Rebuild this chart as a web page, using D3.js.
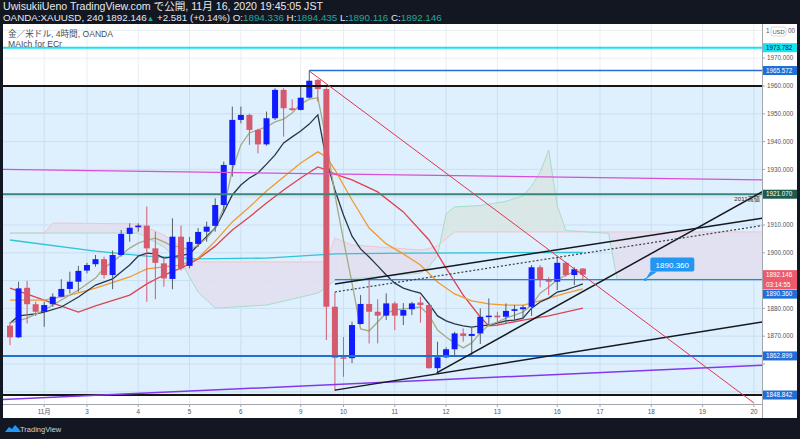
<!DOCTYPE html>
<html>
<head>
<meta charset="utf-8">
<script src="https://cdn.jsdelivr.net/npm/d3@7"></script>
<style>
  body { margin: 0; background: #131722; }
  svg { display: block; }
  text { font-family: "Liberation Sans", "Noto Sans CJK JP", sans-serif; }
</style>
</head>
<body>
<svg id="chart" width="800" height="439"></svg>
<script>
// 4h candles (index 0 = first candle on the left)
const open  = [1873.8,1869.6,1887.4,1881.5,1878.8,1881.5,1884.2,1887.0,1889.6,1893.6,1895.9,1897.7,1892.0,1899.2,1906.8,1909.2,1909.8,1901.6,1896.2,1890.6,1905.8,1895.3,1903.2,1907.6,1909.7,1917.2,1931.6,1947.8,1949.6,1944.2,1939.0,1948.4,1958.6,1952.0,1951.4,1955.8,1962.2,1958.9,1880.6,1862.4,1862.1,1874.4,1881.6,1878.8,1877.4,1881.8,1877.4,1879.7,1882.1,1881.2,1858.5,1862.4,1865.3,1871.0,1870.1,1871.0,1877.0,1877.4,1877.0,1879.1,1879.7,1880.6,1894.8,1890.5,1889.6,1896.4,1892.0,1894.336];
const high  = [1875.1,1889.6,1889.9,1882.4,1882.4,1885.4,1890.5,1893.2,1895.3,1896.4,1899.2,1898.6,1900.8,1908.2,1910.6,1910.6,1916.6,1907.6,1898.0,1912.4,1909.8,1905.7,1908.9,1911.2,1919.6,1932.8,1952.6,1952.6,1950.0,1944.6,1950.8,1959.2,1959.2,1955.2,1959.7,1965.572,1962.5,1959.5,1885.9,1869.7,1875.2,1884.8,1890.2,1883.3,1885.4,1882.4,1881.9,1882.4,1884.2,1881.8,1868.0,1866.0,1871.6,1872.8,1873.1,1880.0,1883.6,1878.8,1881.8,1881.2,1881.2,1895.6,1895.6,1891.2,1898.6,1896.8,1894.8,1894.435];
const low   = [1866.8,1869.4,1874.6,1877.3,1873.4,1880.6,1884.0,1885.4,1886.0,1892.6,1895.0,1890.8,1886.9,1898.6,1904.0,1907.6,1882.4,1883.3,1887.8,1886.9,1893.6,1894.4,1902.1,1904.0,1907.6,1914.8,1927.4,1946.6,1938.8,1935.8,1938.5,1947.8,1941.8,1951.0,1951.2,1955.5,1954.4,1868.6,1850.3,1855.4,1860.3,1874.2,1867.4,1867.4,1875.8,1872.2,1874.0,1877.6,1874.9,1858.3,1856.7,1862.1,1862.6,1868.0,1862.9,1867.2,1874.0,1874.0,1874.6,1875.8,1876.4,1877.3,1887.6,1884.8,1886.6,1891.4,1888.4,1890.116];
const close = [1869.6,1887.2,1881.5,1878.8,1881.2,1884.2,1887.0,1889.6,1893.5,1895.6,1897.7,1892.0,1899.2,1906.8,1909.0,1909.8,1901.6,1896.4,1890.8,1905.8,1894.4,1903.9,1907.5,1909.4,1917.2,1931.6,1947.8,1949.6,1944.2,1939.0,1948.4,1958.6,1952.0,1951.4,1955.8,1961.9,1958.9,1880.6,1862.2,1862.0,1874.0,1881.6,1878.8,1877.4,1881.8,1877.4,1879.4,1881.8,1881.2,1858.5,1862.4,1865.3,1871.0,1870.1,1870.8,1877.0,1877.4,1876.8,1879.1,1879.7,1880.4,1894.8,1890.5,1889.6,1896.4,1892.0,1894.1,1892.146];

// moving averages, sampled at candle indexes
const maFastIdx = [0,2,4,6,8,10,11,12,13,14,15,16,17,18,19,20,21,22,23,24,25,26,27,28,29,30,31,32,33,34,35,36,37,38,39,40,41,42,43,44,45,46,47,48,49,50,51,52,53,54,55,56,57,58,59,60,61,62,63,64,65,66,67];
const maFast    = [1874.7,1876.5,1879.4,1883.0,1886.6,1890.9,1894.5,1896.7,1899.2,1901.7,1903.5,1904.6,1905.3,1903.9,1902.4,1902.1,1901.0,1902.8,1905.3,1908.9,1916.1,1929.8,1938.8,1943.1,1944.2,1945.3,1947.1,1948.1,1950.3,1953.5,1955.3,1955.7,1940.6,1920.8,1904.6,1889.1,1872.6,1871.9,1875.1,1878.3,1879.4,1879.8,1880.1,1880.5,1877.6,1872.2,1869.7,1867.6,1865.8,1867.6,1871.2,1874.0,1875.1,1876.5,1877.6,1878.7,1881.2,1885.5,1887.7,1890.2,1892.0,1893.1,1893.5];
const maMidIdx = [0,1,3,4,6,8,10,12,14,15,16,17,18,19,21,22,24,25,26,27,28,29,30,31,32,33,34,35,36,37,38,39,40,41,42,43,44,45,46,47,48,49,50,51,52,53,54,55,56,57,58,59,60,61,62,63,64,65,66,67];
const maMid    = [1874.7,1877.3,1878.0,1878.7,1880.5,1884.1,1888.4,1890.6,1895.6,1898.8,1899.9,1899.6,1898.1,1898.5,1899.6,1902.8,1908.9,1914.7,1920.8,1924.4,1926.9,1928.7,1931.9,1935.2,1939.5,1941.7,1943.8,1946.3,1949.6,1933.4,1922.6,1913.6,1906.0,1901.4,1898.5,1895.3,1892.0,1889.1,1887.3,1886.3,1885.5,1881.6,1877.3,1875.5,1874.4,1873.7,1873.3,1873.7,1874.0,1874.7,1875.5,1875.8,1876.5,1880.1,1882.3,1883.7,1885.9,1886.6,1887.7,1888.8];
const maOrangeIdx = [0,4,7,10,14,16,18,20,22,24,26,28,30,32,34,36,37,38,39,40,42,44,46,48,50,52,54,56,58,60,61,63,65,67];
const maOrange    = [1883.0,1883.0,1884.8,1887.3,1891.3,1894.2,1894.9,1895.6,1898.1,1904.2,1911.1,1916.5,1922.2,1927.3,1932.3,1936.3,1934.5,1929.8,1924.4,1919.0,1908.9,1903.2,1899.6,1895.6,1889.5,1885.2,1882.7,1881.6,1881.2,1881.2,1881.9,1883.7,1885.5,1887.0];
const maRedIdx = [0,4,8,10,14,16,18,20,22,24,26,28,30,32,34,36,37,38,40,43,46,49,51,53,55,56,57,60,63,67];
const maRed    = [1887.3,1883.0,1878.7,1880.9,1884.8,1888.8,1892.0,1894.5,1897.8,1902.4,1908.2,1912.9,1917.9,1922.6,1926.9,1930.9,1929.8,1928.3,1926.2,1921.9,1914.7,1904.6,1894.5,1884.8,1876.9,1873.7,1874.0,1875.8,1877.3,1880.1];
const maLongIdx = [0,10,16,22,30,38,46,55,67];
const maLong    = [1904.6,1900.6,1898.8,1897.8,1898.1,1899.6,1899.9,1900.0,1900.1];

// ichimoku leading spans (shifted forward), sampled at the same indexes
const cloudIdx = [0,4,5,15,18,20,22,24,30,36,37,38,40,48,49,50,51,52,55,58,60,61,62,63,64,65,70,71,89];
const spanA    = [1907.1,1907.1,1907.1,1907.1,1902.1,1896.7,1885.9,1880.1,1881.2,1885.5,1887.5,1890.2,1890.6,1892.7,1895.0,1899.0,1914.0,1916.5,1917.0,1918.5,1920.5,1924.0,1929.0,1937.0,1917.0,1908.0,1907.0,1890.5,1890.5];
const spanB    = [1907.1,1907.1,1910.7,1910.4,1906.4,1902.1,1896.7,1896.7,1896.7,1896.7,1896.7,1905.3,1902.8,1901.0,1901.5,1902.5,1905.0,1907.5,1907.5,1907.5,1907.5,1907.5,1907.5,1907.5,1907.5,1907.5,1907.5,1907.5,1907.5];

// x axis
const tickIdx    = [4,9,15,21,27,34,39,45,51,57,64,69,75,81,87];
const tickLabels = ["11月","3","4","5","6","9","10","11","12","13","16","17","18","19","20"];
const priceTicks = [1850,1860,1870,1880,1890,1900,1910,1920,1930,1940,1950,1960,1970];

// horizontal drawings: price, colour, width, start index
const hPrices = [1973.782,1965.572,1960,1921.070,1890.360,1862.899,1848.842];
const hColors = ["#12e4f2","#1f6fd6","#161616","#3b8678","#2f80e3","#1f6fd6","#161616"];
const hWidths = [2,1.3,2,2,1.3,2,2];
const hStart  = [-2,35,-2,-2,38,-2,-2];

// sloped drawings: [idx0, price0, idx1, price1]
const trendLines = [
  {name:"magenta", p:[-1,1930.0,89,1926.2], color:"#d84fd6", w:1.3, dash:null},
  {name:"purple",  p:[-1,1847.2,89,1859.7], color:"#8338ec", w:1.5, dash:null},
  {name:"lower",   p:[38,1850.6,89,1875.6], color:"#16181f", w:1.5, dash:null},
  {name:"steep",   p:[49.9,1856.8,89,1923.7], color:"#16181f", w:1.5, dash:null},
  {name:"upper",   p:[38,1888.8,89,1912.9], color:"#16181f", w:1.5, dash:null},
  {name:"dotted",  p:[38,1885.9,89,1910.3], color:"#3a3d45", w:1.2, dash:"2,2"},
  {name:"redDiag", p:[35,1965.4,87,1846.0], color:"#e0364c", w:1, dash:null}
];

// right axis price labels
const axisLabelPrices = [1973.782,1965.572,1921.070,1892.146,1890.360,1862.899,1848.842];
const axisLabelText   = ["1973.782","1965.572","1921.070","1892.146","1890.360","1862.899","1848.842"];
const axisLabelFill   = ["#12e4f2","#1f6fd6","#1d5c4d","#ee5a6c","#1f6fd6","#1f6fd6","#1f6fd6"];
const axisLabelInk    = ["#131722","#fff","#fff","#fff","#fff","#fff","#fff"];

const W = 800, H = 439;
const L = 3, R = 762, T = 24, B = 404;

const svg = d3.select("#chart");
const x = d3.scaleLinear().domain([0, 87]).range([10, 753.9]);
const y = d3.scaleLinear().domain([1850, 1960]).range([391.8, 86]);

svg.append("rect").attr("width", W).attr("height", H).attr("fill", "#131722");
svg.append("rect").attr("x", L).attr("y", T).attr("width", 794).attr("height", 394).attr("fill", "#fff");

svg.append("defs").append("clipPath").attr("id", "plotClip")
  .append("rect").attr("x", L).attr("y", T).attr("width", R - L).attr("height", B - T);

const plot = svg.append("g").attr("clip-path", "url(#plotClip)");

// grid
plot.selectAll(".vgrid").data(tickIdx).join("line")
  .attr("x1", d => x(d)).attr("x2", d => x(d)).attr("y1", T).attr("y2", B)
  .attr("stroke", "#e8edf3").attr("stroke-width", 1);
plot.selectAll(".hgrid").data(priceTicks.concat([1980])).join("line")
  .attr("x1", L).attr("x2", R).attr("y1", d => y(d)).attr("y2", d => y(d))
  .attr("stroke", "#e8edf3").attr("stroke-width", 1);

// rectangle drawing (1960 .. 1848.842)
plot.append("rect").attr("x", L).attr("width", R - L)
  .attr("y", y(1960)).attr("height", y(1848.842) - y(1960))
  .attr("fill", "rgba(33,150,243,0.15)");

// cloud: one quad per step, green-grey when span A is on top, lavender otherwise
const cloudSteps = d3.pairs(cloudIdx.map((d, i) => ({i: d, a: spanA[i], b: spanB[i]})));
plot.selectAll(".cloud").data(cloudSteps).join("path")
  .attr("d", ([p, q]) => `M${x(p.i)},${y(p.a)}L${x(q.i)},${y(q.a)}L${x(q.i)},${y(q.b)}L${x(p.i)},${y(p.b)}Z`)
  .attr("fill", ([p, q]) => (p.a + q.a) > (p.b + q.b) ? "#d8e5e4" : "#e2dfef")
  .attr("opacity", 0.9);
plot.append("path").datum(cloudIdx.map((d, i) => [d, spanB[i]]))
  .attr("d", d3.line().x(d => x(d[0])).y(d => y(d[1])))
  .attr("fill", "none").attr("stroke", "#f3c3cf").attr("stroke-width", 1);
plot.append("path").datum(cloudIdx.map((d, i) => [d, spanA[i]]))
  .attr("d", d3.line().x(d => x(d[0])).y(d => y(d[1])))
  .attr("fill", "none").attr("stroke", "#a9dcc7").attr("stroke-width", 1);

// moving averages
const maDefs = [
  {idx: maLongIdx, v: maLong, color: "#2fc3d8"},
  {idx: maRedIdx, v: maRed, color: "#e0424f"},
  {idx: maOrangeIdx, v: maOrange, color: "#f29a2e"},
  {idx: maMidIdx, v: maMid, color: "#2a3648"},
  {idx: maFastIdx, v: maFast, color: "#a6aa83"}
];
const maLine = d3.line().x(d => x(d[0])).y(d => y(d[1]));
maDefs.forEach(m => {
  plot.append("path").datum(m.idx.map((d, i) => [d, m.v[i]]))
    .attr("d", maLine).attr("fill", "none")
    .attr("stroke", m.color).attr("stroke-width", 1.3);
});

// candles
const candles = open.map((o, i) => ({i, o, h: high[i], l: low[i], c: close[i]}));
const bull = "#0f1cff", bear = "#d65a6e";
const cg = plot.selectAll(".candle").data(candles).join("g");
cg.append("line")
  .attr("x1", d => x(d.i)).attr("x2", d => x(d.i))
  .attr("y1", d => y(d.h)).attr("y2", d => y(d.l))
  .attr("stroke", d => d.c >= d.o ? "#5a5d66" : bear).attr("stroke-width", 1);
cg.append("rect")
  .attr("x", d => x(d.i) - 3).attr("width", 6)
  .attr("y", d => y(Math.max(d.o, d.c)))
  .attr("height", d => Math.max(1.5, Math.abs(y(d.o) - y(d.c))))
  .attr("fill", d => d.c >= d.o ? bull : bear);

// horizontal drawings
plot.selectAll(".hline").data(hPrices).join("line")
  .attr("x1", (d, i) => x(hStart[i])).attr("x2", R)
  .attr("y1", d => y(d)).attr("y2", d => y(d))
  .attr("stroke", (d, i) => hColors[i]).attr("stroke-width", (d, i) => hWidths[i]);

// trend lines
trendLines.forEach(t => {
  plot.append("line")
    .attr("x1", x(t.p[0])).attr("y1", y(t.p[1]))
    .attr("x2", x(t.p[2])).attr("y2", y(t.p[3]))
    .attr("stroke", t.color).attr("stroke-width", t.w)
    .attr("stroke-dasharray", t.dash);
});

// note under the 2011 high line
plot.append("text").attr("x", 760).attr("y", y(1921.070) + 7)
  .attr("text-anchor", "end").attr("font-size", 6.2).attr("fill", "#333")
  .text("2011高値");

// callout 1890.360
const cx = x(74.3), cy = y(1890.360);
plot.append("path")
  .attr("d", `M${cx},${cy} L${cx + 5},${cy - 8} L${cx + 12},${cy - 8} Z`)
  .attr("fill", "#2196f3");
plot.append("rect").attr("x", cx + 5).attr("y", cy - 22).attr("width", 44).attr("height", 14)
  .attr("rx", 2).attr("fill", "#2196f3");
plot.append("text").attr("x", cx + 27).attr("y", cy - 12).attr("text-anchor", "middle")
  .attr("font-size", 8).attr("fill", "#fff").text("1890.360");
plot.append("circle").attr("cx", cx).attr("cy", cy).attr("r", 1.5).attr("fill", "#2196f3");

// axes lines
svg.append("line").attr("x1", R + 0.5).attr("x2", R + 0.5).attr("y1", T).attr("y2", 418)
  .attr("stroke", "#a3a6ae").attr("stroke-width", 1);
svg.append("line").attr("x1", L).attr("x2", R).attr("y1", B + 0.5).attr("y2", B + 0.5)
  .attr("stroke", "#a3a6ae").attr("stroke-width", 1);

// bottom axis
svg.selectAll(".xtick").data(tickIdx).join("line")
  .attr("x1", d => x(d)).attr("x2", d => x(d)).attr("y1", B).attr("y2", B + 3)
  .attr("stroke", "#a3a6ae");
svg.selectAll(".xlab").data(tickIdx).join("text")
  .attr("x", d => x(d)).attr("y", 414).attr("text-anchor", "middle")
  .attr("font-size", 6.3).attr("fill", "#50535e")
  .text((d, i) => tickLabels[i]);

// coloured price labels, stacked so they do not overlap
const boxes = axisLabelPrices.map((p, i) => ({p, t: axisLabelText[i], f: axisLabelFill[i], k: axisLabelInk[i], yy: y(p), h: 9}));
boxes.find(b => b.t === "1892.146").h = 19;
boxes.sort((a, b) => a.yy - b.yy);
for (let i = 1; i < boxes.length; i++) {
  const prev = boxes[i - 1];
  const prevBottom = prev.yy - 4.5 + prev.h;
  if (boxes[i].yy - 4.5 < prevBottom + 0.5) boxes[i].yy = prevBottom + 5;
}

// right axis: plain labels hidden where a coloured label covers them
const freeTicks = priceTicks.filter(p => !boxes.some(b => y(p) > b.yy - 4.5 - 4 && y(p) < b.yy - 4.5 + b.h + 4));
svg.selectAll(".ytick").data(priceTicks).join("line")
  .attr("x1", R).attr("x2", R + 3).attr("y1", d => y(d)).attr("y2", d => y(d))
  .attr("stroke", "#a3a6ae");
svg.selectAll(".ylab").data(freeTicks).join("text")
  .attr("x", 767).attr("y", d => y(d) + 2.2)
  .attr("font-size", 6.3).attr("fill", "#50535e")
  .text(d => d3.format(".3f")(d));

boxes.forEach(b => {
  svg.append("rect").attr("x", R + 1).attr("y", b.yy - 4.5).attr("width", 34).attr("height", b.h)
    .attr("fill", b.f);
  svg.append("text").attr("x", 766).attr("y", b.yy + 2.2)
    .attr("font-size", 6.3).attr("fill", b.k).text(b.t);
  if (b.t === "1892.146") {
    svg.append("text").attr("x", 766).attr("y", b.yy + 12)
      .attr("font-size", 6.3).attr("fill", "#fff").text("03:14:55");
  }
});

// currency badge over the 1980 label
svg.append("text").attr("x", 766).attr("y", y(1980) + 2.2).attr("font-size", 6.3).attr("fill", "#50535e").text("1");
svg.append("text").attr("x", 788).attr("y", y(1980) + 2.2).attr("font-size", 6.3).attr("fill", "#50535e").text("00");
svg.append("rect").attr("x", 771).attr("y", 27).attr("width", 15).attr("height", 9)
  .attr("rx", 2).attr("fill", "#fff").attr("stroke", "#d6d8de");
svg.append("text").attr("x", 778.5).attr("y", 33.6).attr("text-anchor", "middle")
  .attr("font-size", 5.8).attr("fill", "#50535e").text("USD");

// legend in panel
svg.append("text").attr("x", 8).attr("y", 37).attr("font-size", 8.6).attr("fill", "#4a4d57")
  .text("金／米ドル, 4時間, OANDA");
svg.append("text").attr("x", 8).attr("y", 46.5).attr("font-size", 8.6).attr("fill", "#4a4d57")
  .text("MAIch for ECr");

// header
svg.append("text").attr("x", 3).attr("y", 10).attr("font-size", 10.6).attr("fill", "#e8e9ec")
  .text("UwisukiiUeno TradingView.com で公開, 11月 16, 2020 19:45:05 JST");
const hdr = svg.append("text").attr("x", 3).attr("y", 20.5).attr("font-size", 9.8).attr("fill", "#e8e9ec");
hdr.append("tspan").text("OANDA:XAUUSD, 240 1892.146");
hdr.append("tspan").attr("fill", "#26a69a").attr("font-size", 7.5).text("▲");
hdr.append("tspan").text(" +2.581 (+0.14%) O:");
hdr.append("tspan").attr("fill", "#26a69a").text("1894.336");
hdr.append("tspan").text(" H:");
hdr.append("tspan").attr("fill", "#26a69a").text("1894.435");
hdr.append("tspan").text(" L:");
hdr.append("tspan").attr("fill", "#26a69a").text("1890.116");
hdr.append("tspan").text(" C:");
hdr.append("tspan").attr("fill", "#26a69a").text("1892.146");

// footer logo
const logo = svg.append("g").attr("transform", "translate(5,424)");
logo.append("path")
  .attr("d", "M0,8 L4,3 L7,5 L10,1 L14,5 L16,8 Z")
  .attr("fill", "#2196f3");
svg.append("text").attr("x", 20).attr("y", 432).attr("font-size", 7.5).attr("fill", "#d1d4dc")
  .text("TradingView");
</script>
</body>
</html>
